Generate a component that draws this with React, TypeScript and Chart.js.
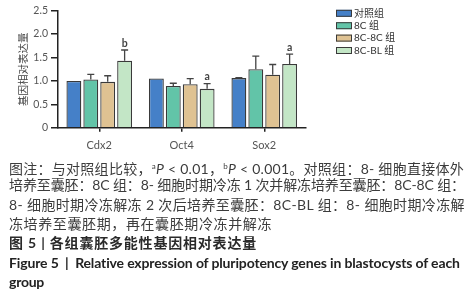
import React, { useEffect, useLayoutEffect, useRef } from 'react';
import { Chart, registerables } from 'chart.js';

Chart.register(...registerables);

// ---------- data ----------
const categories = ['Cdx2', 'Oct4', 'Sox2'];
const seriesNames = ['对照组', '8C 组', '8C-8C 组', '8C-BL 组'];
const controlValues = [1.0, 1.05, 1.06];
const controlErrors = [0, 0, 0.01];
const c8Values = [1.03, 0.89, 1.25];
const c8Errors = [0.11, 0.06, 0.28];
const c88Values = [0.98, 0.93, 1.13];
const c88Errors = [0.13, 0.12, 0.22];
const blValues = [1.43, 0.83, 1.36];
const blErrors = [0.23, 0.11, 0.21];
const blSignificance = ['b', 'a', 'a'];
const yTicks = [0, 0.5, 1.0, 1.5, 2.0, 2.5];
const yTickLabels = ['0', '0.5', '1.0', '1.5', '2.0', '2.5'];
const yTitle = '基因相对表达量';

const seriesColors = ['#4580c8', '#62c4a8', '#dfc292', '#c3e6c6'];
const borderCol = '#3a3a3a';

const errorBarPlugin = {
  id: 'errorBars',
  afterDatasetsDraw(chart: any) {
    const ctx = chart.ctx;
    const y = chart.scales.y;
    chart.data.datasets.forEach((ds: any, i: number) => {
      const meta = chart.getDatasetMeta(i);
      meta.data.forEach((bar: any, j: number) => {
        const v = ds.data[j];
        const e = ds.errors ? ds.errors[j] : 0;
        const top = y.getPixelForValue(v + e);
        ctx.save();
        if (e > 0) {
          ctx.strokeStyle = '#444';
          ctx.lineWidth = 1.3;
          ctx.beginPath();
          ctx.moveTo(bar.x, bar.y);
          ctx.lineTo(bar.x, top);
          ctx.moveTo(bar.x - 3.5, top);
          ctx.lineTo(bar.x + 3.5, top);
          ctx.stroke();
        }
        const sig = ds.significance ? ds.significance[j] : '';
        if (sig) {
          ctx.fillStyle = '#444';
          ctx.font = 'bold 10.5px Lato, "Noto Sans"';
          ctx.textAlign = 'center';
          ctx.textBaseline = 'bottom';
          ctx.fillText(sig, bar.x, top - 1.5);
        }
        ctx.restore();
      });
    });
  },
};

const sideLegendPlugin = {
  id: 'sideLegend',
  afterDraw(chart: any, _args: any, opts: any) {
    const ctx = chart.ctx;
    chart.data.datasets.forEach((ds: any, i: number) => {
      const cy = opts.y + i * opts.rowHeight;
      ctx.save();
      ctx.fillStyle = ds.backgroundColor;
      ctx.fillRect(opts.x, cy - opts.boxHeight / 2, opts.boxWidth, opts.boxHeight);
      ctx.strokeStyle = ds.borderColor;
      ctx.lineWidth = 1;
      ctx.strokeRect(opts.x + 0.5, cy - opts.boxHeight / 2 + 0.5, opts.boxWidth - 1, opts.boxHeight - 1);
      ctx.fillStyle = '#333';
      ctx.font = '10px Lato, "Noto Sans CJK SC"';
      ctx.textAlign = 'left';
      ctx.textBaseline = 'middle';
      ctx.fillText(ds.label, opts.x + opts.boxWidth + opts.gap, cy);
      ctx.restore();
    });
  },
};

function BarChart() {
  const ref = useRef<HTMLCanvasElement>(null);
  useEffect(() => {
    if (!ref.current) return;
    const values = [controlValues, c8Values, c88Values, blValues];
    const errors = [controlErrors, c8Errors, c88Errors, blErrors];
    const chart = new Chart(ref.current, {
      type: 'bar',
      data: {
        labels: categories,
        datasets: seriesNames.map((name, i) => ({
          label: name,
          data: values[i],
          errors: errors[i],
          significance: i === 3 ? blSignificance : undefined,
          backgroundColor: seriesColors[i],
          borderColor: borderCol,
          borderWidth: 1.3,
          categoryPercentage: 0.82,
          barPercentage: 0.88,
        })) as any,
      },
      options: {
        responsive: false,
        animation: false,
        devicePixelRatio: 1,
        layout: { padding: { top: 10.7, right: 168.5, bottom: 8.3, left: 0 } },
        plugins: {
          legend: { display: false },
          tooltip: { enabled: false },
          sideLegend: { x: 336, y: 13.3, rowHeight: 12.4, boxWidth: 16, boxHeight: 7, gap: 2 },
        } as any,
        scales: {
          x: {
            grid: { display: true, drawOnChartArea: false, offset: false, tickLength: 4, color: '#222', lineWidth: 1.5 },
            border: { color: '#222', width: 1.5 },
            ticks: { color: '#555', font: { family: 'Lato', size: 11 }, padding: 7 },
            afterFit: (s: any) => { s.height = 24; },
          },
          y: {
            min: 0,
            max: 2.5,
            ticks: {
              stepSize: 0.5,
              color: '#555',
              font: { family: 'Lato', size: 10.5 },
              padding: 3,
              callback: (v: any) => {
                const k = yTicks.indexOf(Number(v));
                return k >= 0 ? yTickLabels[k] : '';
              },
            },
            grid: { drawOnChartArea: false, tickLength: 7, color: '#222', lineWidth: 1.5 },
            border: { color: '#222', width: 1.5 },
            title: {
              display: true,
              text: yTitle,
              color: '#444',
              font: { family: '"Noto Sans CJK SC"', size: 10.5 },
              padding: { top: 16.5, bottom: 0 },
            },
            afterFit: (s: any) => { s.width = 58; },
          },
        },
      } as any,
      plugins: [errorBarPlugin, sideLegendPlugin],
    });
    return () => chart.destroy();
  }, []);
  return (
    <canvas
      ref={ref}
      width={474}
      height={160}
      style={{ position: 'absolute', left: 0, top: 0, width: 474, height: 160 }}
    />
  );
}

const captionFont = 'Lato, "Noto Sans CJK SC", sans-serif';

type LineSpec = { top: number; target?: number; bold?: boolean; color: string; content: React.ReactNode };

const lineStart = 9;
const lineGap = 19.3;
const firstCenter = 166;

const lines: LineSpec[] = [
  {
    target: 455,
    color: '#3c3c3c',
    top: 0,
    content: (
      <>
        图注：与对照组比较，<sup style={{ fontSize: 8, verticalAlign: 5 }}>a</sup>
        <i>P</i> &lt; 0.01，<sup style={{ fontSize: 8, verticalAlign: 5 }}>b</sup>
        <i>P</i> &lt; 0.001。对照组：8- 细胞直接体外
      </>
    ),
  },
  { target: 456, color: '#3c3c3c', top: 0, content: <>培养至囊胚：8C 组：8- 细胞时期冷冻 1 次并解冻培养至囊胚：8C-8C 组：</> },
  { target: 456, color: '#3c3c3c', top: 0, content: <>8- 细胞时期冷冻解冻 2 次后培养至囊胚：8C-BL 组：8- 细胞时期冷冻解</> },
  { target: 263, color: '#3c3c3c', top: 0, content: <>冻培养至囊胚期，再在囊胚期冷冻并解冻</> },
  { target: 248, color: '#2a2a2a', bold: true, top: 0, content: <>图 5 | 各组囊胚多能性基因相对表达量</> },
  { target: 451, color: '#222', bold: true, top: 0, content: <>Figure 5 &nbsp;|&nbsp; Relative expression of pluripotency genes in blastocysts of each</> },
  { target: 35, color: '#222', bold: true, top: 0, content: <>group</> },
];

function Caption() {
  const refs = useRef<(HTMLSpanElement | null)[]>([]);
  useLayoutEffect(() => {
    const fit = () => {
      refs.current.forEach((el, i) => {
        if (!el) return;
        const spec = lines[i];
        if (!spec.target) return;
        el.style.letterSpacing = '0px';
        const w = el.getBoundingClientRect().width;
        const n = (el.textContent || '').length;
        const ls = (spec.target - w) / Math.max(1, n);
        el.style.letterSpacing = ls.toFixed(3) + 'px';
      });
    };
    fit();
    (document as any).fonts?.ready?.then(fit);
  }, []);
  return (
    <>
      {lines.map((l, i) => (
        <div
          key={i}
          style={{
            position: 'absolute',
            left: lineStart,
            top: firstCenter + i * lineGap - 10,
            height: 20,
            lineHeight: '20px',
            whiteSpace: 'nowrap',
            fontFamily: captionFont,
            fontSize: 14,
            fontWeight: l.bold ? 700 : 400,
            color: l.color,
          }}
        >
          <span ref={(e) => { refs.current[i] = e; }}>{l.content}</span>
        </div>
      ))}
    </>
  );
}

export default function App() {
  return (
    <div
      style={{
        position: 'fixed',
        left: 0,
        top: 0,
        width: 474,
        height: 300,
        background: '#fff',
        overflow: 'hidden',
      }}
    >
      <BarChart />
      <Caption />
    </div>
  );
}
